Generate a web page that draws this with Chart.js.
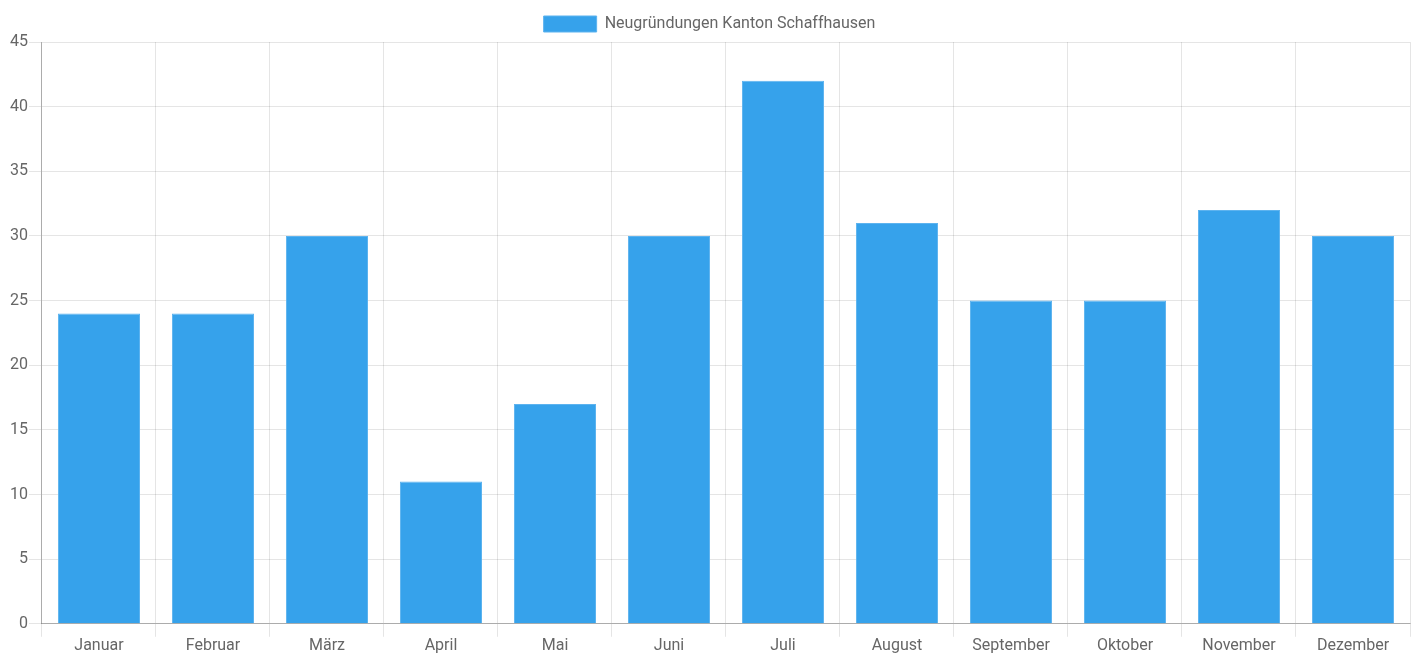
<!DOCTYPE html>
<html><head><meta charset="utf-8">
<script src="https://cdn.jsdelivr.net/npm/chart.js@4/dist/chart.umd.min.js"></script>
<style>html,body{margin:0;padding:0;background:#fff}#c{display:block}</style>
</head><body>
<canvas id="c" width="1417" height="654"></canvas>
<script>
const categories = ["Januar","Februar","März","April","Mai","Juni","Juli","August","September","Oktober","November","Dezember"];
const seriesLabel = "Neugründungen Kanton Schaffhausen";
const values = [24,24,30,11,17,30,42,31,25,25,32,30];
const yMin = 0, yMax = 45, yStep = 5;

Chart.defaults.font.family = "Roboto, 'Liberation Sans', Arial, sans-serif";
Chart.defaults.font.size = 16;
Chart.defaults.color = '#666';

new Chart(document.getElementById('c'), {
  type: 'bar',
  data: {
    labels: categories,
    datasets: [{
      label: seriesLabel,
      data: values,
      backgroundColor: '#36a2eb',
      borderColor: '#5db3ef',
      borderWidth: 1,
      categoryPercentage: 0.8,
      barPercentage: 0.9
    }]
  },
  options: {
    responsive: false,
    animation: false,
    layout: { padding: { left: 9, right: 7, top: 6, bottom: -2 } },
    plugins: {
      legend: { labels: { boxWidth: 53, boxHeight: 16, padding: 10 } },
      tooltip: { enabled: false }
    },
    scales: {
      x: {
        grid: { color: 'rgba(0,0,0,0.1)', offset: true, tickLength: 13 },
        border: { color: 'rgba(0,0,0,0.25)' },
        ticks: { padding: 0 }
      },
      y: {
        min: yMin, max: yMax,
        grid: { color: 'rgba(0,0,0,0.1)', tickLength: 13 },
        border: { color: 'rgba(0,0,0,0.25)' },
        ticks: { stepSize: yStep, padding: 1 }
      }
    }
  }
});
</script>
</body></html>
